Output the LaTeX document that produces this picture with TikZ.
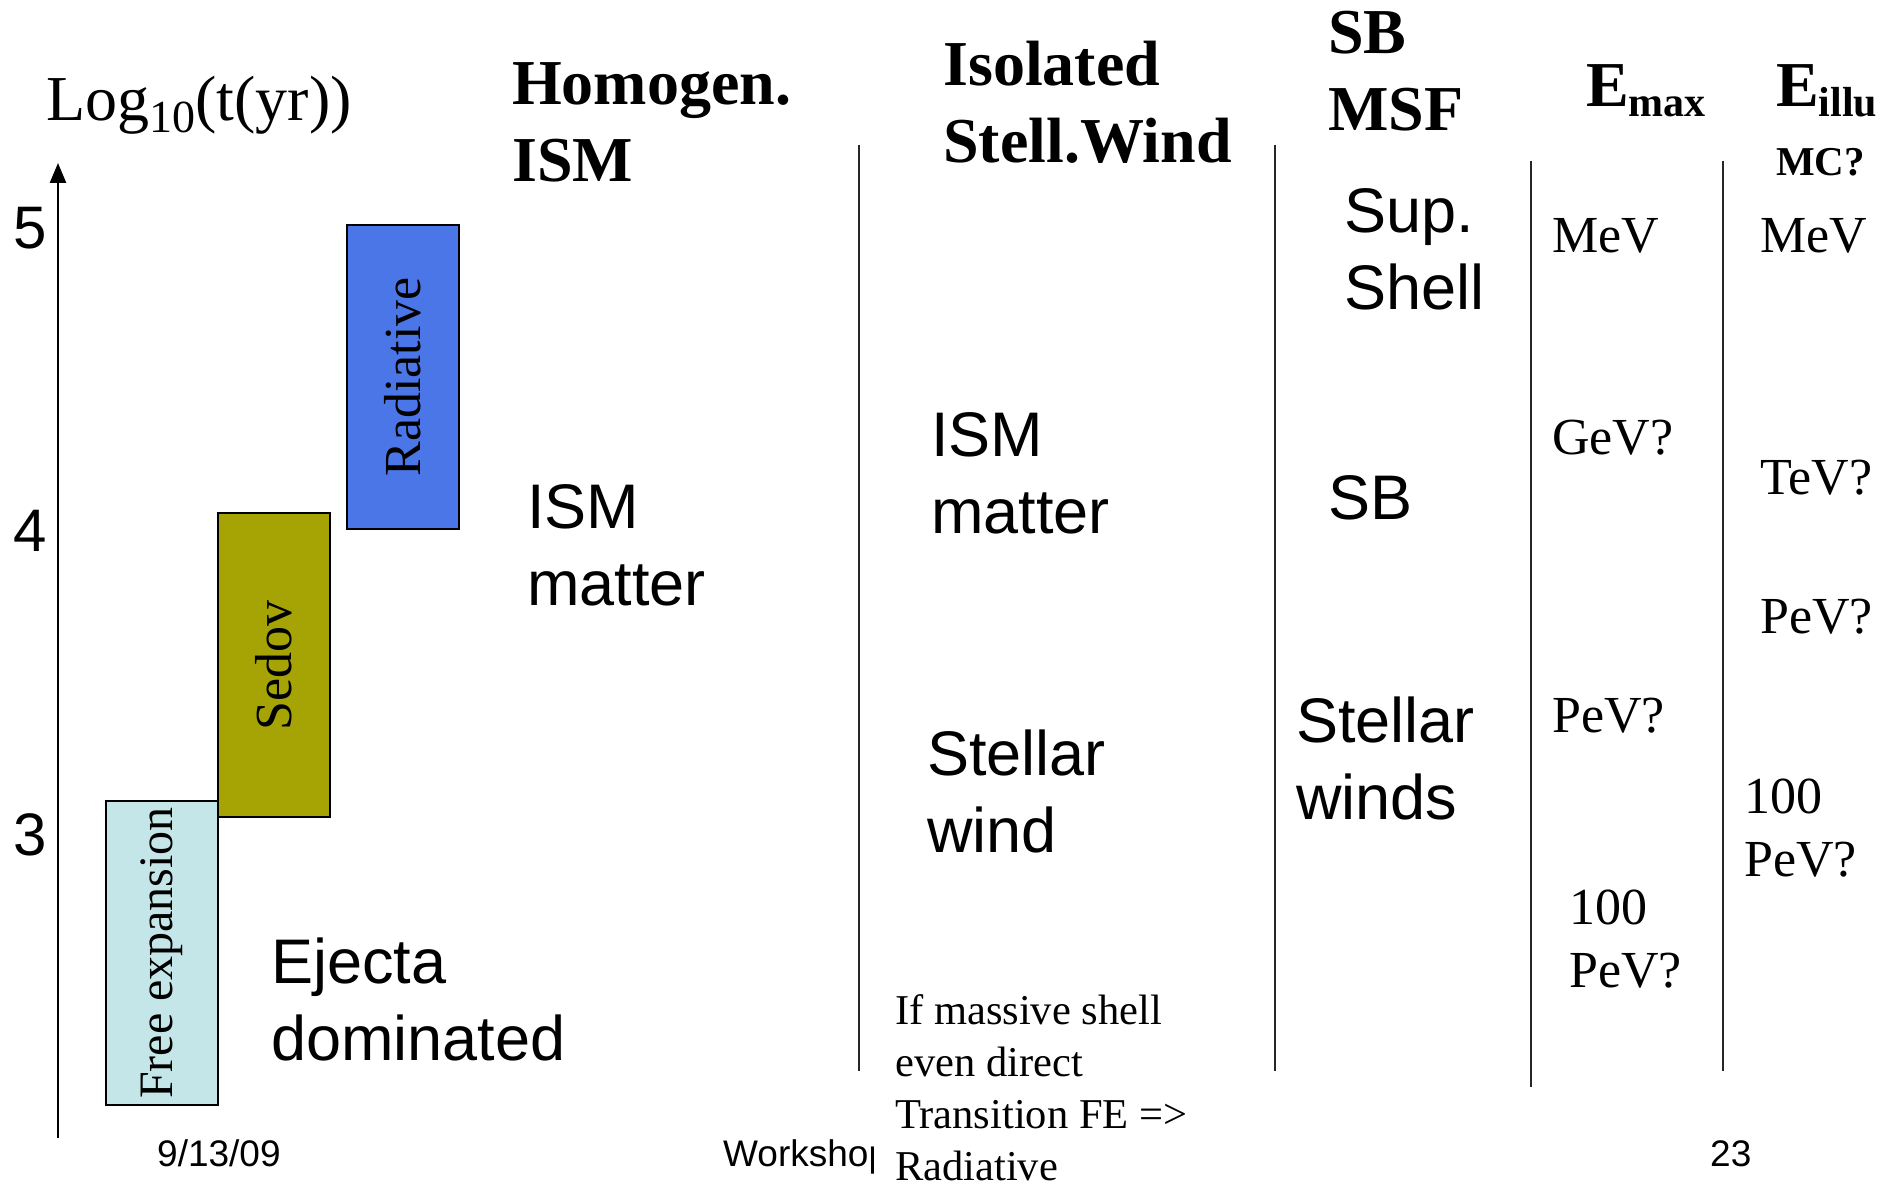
\documentclass[tikz,border=0pt]{standalone}
\usepackage{fontspec}
\setmainfont{Liberation Serif}
\newfontfamily\arialf{Liberation Sans}
\usetikzlibrary{arrows.meta}
\newcommand\fsz[2]{\fontsize{#1}{#2}\selectfont}
\definecolor{fecol}{HTML}{C4E6E8}
\definecolor{secol}{HTML}{A6A305}
\definecolor{racol}{HTML}{4A76E8}
\begin{document}
\begin{tikzpicture}[x=1pt,y=1pt,
  title/.style={font=\bfseries\fsz{64}{77}, align=left, anchor=base west, inner sep=0pt},
  sans/.style={font=\arialf\fsz{63}{76.5}, align=left, anchor=base west, inner sep=0pt},
  energy/.style={font=\fsz{52}{63}, align=left, anchor=base west, inner sep=0pt},
  tick/.style={font=\arialf\fsz{60}{70}, anchor=base, inner sep=0pt},
  foot/.style={font=\arialf\fsz{37}{44}, anchor=base west, inner sep=0pt},
  phase/.style={draw=black, line width=2pt, rotate=90, minimum width=304pt, minimum height=112pt, inner sep=0pt, font=\fsz{52}{60}},
  sepline/.style={line width=2pt, draw=black!85}
]
\useasboundingbox (0,0) rectangle (1898,-1185);

% axis
\coordinate (axb) at (58,-1138);
\coordinate (axt) at (58,-163);
\draw[line width=2.5pt, -{Triangle[width=16pt,length=20pt]}] (axb) -- (axt);
\node[tick] (t5) at (30,-248) {5};
\node[tick] (t4) at (30,-551) {4};
\node[tick] (t3) at (30,-855) {3};
\node[anchor=base west, inner sep=0pt, font=\fsz{64}{70}] (loglab) at (46,-121)
  {Log\raisebox{-12pt}{\fsz{46}{50}\selectfont 10}(t(yr))};

% phase boxes
\node[phase, fill=fecol, font=\fsz{48}{56}] (fe) at (162,-953) {Free expansion};
\node[phase, fill=secol] (se) at (274,-665) {Sedov};
\node[phase, fill=racol] (ra) at (403,-377) {Radiative};

% headers (anchor = baseline of last line)
\node[title] (h1) at (512,-182) {Homogen.\\ISM};
\node[title] (h2) at (943,-163) {Isolated\\Stell.Wind};
\node[title] (h3) at (1328,-131) {SB\\MSF};
\node[title] (h4) at (1586,-107) {E\raisebox{-10pt}{\fsz{42}{46}\selectfont max}};
\node[title] (h5) at (1776,-107) {E\raisebox{-10pt}{\fsz{42}{46}\selectfont illu}};
\node[title, font=\bfseries\fsz{41}{48}] (mc) at (1776,-176) {MC?};

% separators
\coordinate (s1a) at (859,-145);  \coordinate (s1b) at (859,-1071);
\coordinate (s2a) at (1275,-145); \coordinate (s2b) at (1275,-1071);
\coordinate (s3a) at (1531,-161); \coordinate (s3b) at (1531,-1087);
\coordinate (s4a) at (1723,-161); \coordinate (s4b) at (1723,-1071);
\draw[sepline] (s1a) -- (s1b);
\draw[sepline] (s2a) -- (s2b);
\draw[sepline] (s3a) -- (s3b);
\draw[sepline] (s4a) -- (s4b);

% column 1
\node[sans] (c1a) at (527,-605) {ISM\\matter};
\node[sans] (c1b) at (271,-1060) {Ejecta\\dominated};
% column 2
\node[sans] (c2a) at (931,-533) {ISM\\matter};
\node[sans] (c2b) at (927,-852) {Stellar\\wind};
% column 3
\node[sans] (c3a) at (1344,-309) {Sup.\\Shell};
\node[sans] (c3b) at (1328,-519) {SB};
\node[sans] (c3c) at (1296,-819) {Stellar\\winds};
% column 4
\node[energy] (e1) at (1552,-252) {MeV};
\node[energy] (e2) at (1552,-454) {GeV?};
\node[energy] (e3) at (1552,-732) {PeV?};
\node[energy] (e4) at (1569,-987) {100\\PeV?};
% column 5
\node[energy] (f1) at (1760,-252) {MeV};
\node[energy] (f2) at (1760,-494) {TeV?};
\node[energy] (f3) at (1760,-633) {PeV?};
\node[energy] (f4) at (1744,-876) {100\\PeV?};

% footer
\node[foot] (d) at (157,-1166) {9/13/09};
\node[foot] (w) at (723,-1166) {Workshop};
\node[foot] (pg) at (1710,-1166) {23};

% note
\node[fill=white, anchor=base west, inner xsep=21pt, inner ysep=6pt, align=left,
      font=\fsz{42.5}{52}] (note) at (874,-1180)
  {If massive shell\\even direct\\Transition FE =>\\Radiative};
\end{tikzpicture}
\end{document}
